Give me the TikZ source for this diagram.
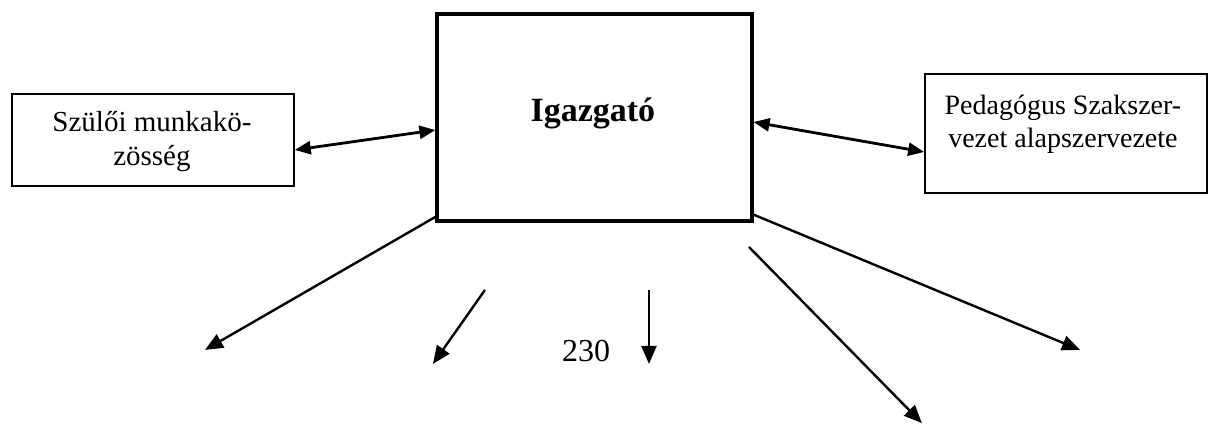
\documentclass[tikz,border=0pt]{standalone}
\usepackage{fontspec}
\setmainfont{Liberation Serif}
\usetikzlibrary{arrows.meta}

\begin{document}
\begin{tikzpicture}[
    doboz/.style={draw, inner sep=0pt, line width=0.8pt},
    szoveg/.style={align=center, font=\fontsize{14.5}{17}\selectfont},
    nyil/.style={line width=1.2pt, -{Triangle[length=9pt,width=7.5pt]}},
    kettos/.style={line width=1.4pt, {Triangle[length=8pt,width=6.5pt]}-{Triangle[length=8pt,width=6.5pt]}}
]
\useasboundingbox (0,0) rectangle (21.30,7.486);

    \node [doboz, line width=1.6pt, minimum width=5.535cm, minimum height=3.638cm]
        (igazgato) at (10.4475,5.421) {};                       % the head box
    \node [anchor=base, font=\fontsize{17}{20}\selectfont\bfseries]
        (igazgato-szoveg) at (10.42,5.342) {Igazgató};

    \node [doboz, minimum width=4.955cm, minimum height=1.616cm]
        (szulo) at (2.689,5.026) {};                           % left box
    \node [szoveg] (szulo-szoveg) at (2.67,4.99) {Szülői munkakö-\\zösség};

    \node [doboz, minimum width=4.955cm, minimum height=2.092cm]
        (szakszervezet) at (18.7325,5.14) {};                  % right box
    \node [szoveg, font=\fontsize{14}{16.5}\selectfont]
        (szakszervezet-szoveg) at (18.68,5.31) {Pedagógus Szakszer-\\vezet alapszervezete};

    \draw [kettos] ([yshift=-0.176cm]szulo.east) -- ([yshift=-0.22cm]igazgato.west);
    \draw [kettos] ([yshift=-0.08cm]igazgato.east) -- ([yshift=-0.325cm]szakszervezet.west);

    % loose ends below the head box
    \coordinate (a1) at (3.602,1.336);
    \coordinate (b0) at (8.523,2.39);
    \coordinate (b1) at (7.609,1.09);
    \coordinate (c0) at (11.405,2.39);
    \coordinate (c1) at (11.405,1.09);
    \coordinate (d0) at (13.162,3.146);
    \coordinate (d1) at (16.202,0.05);
    \coordinate (e1) at (18.98,1.336);

    \draw [nyil] ([yshift=0.1cm]igazgato.south west) -- (a1);
    \draw [nyil] (b0) -- (b1);
    \draw [nyil] (c0) -- (c1);
    \draw [nyil] (d0) -- (d1);
    \draw [nyil] ([yshift=0.14cm]igazgato.south east) -- (e1);

    \node [anchor=base, font=\fontsize{16}{19}\selectfont] (oldal) at (10.30,1.125) {230};

\end{tikzpicture}
\end{document}
